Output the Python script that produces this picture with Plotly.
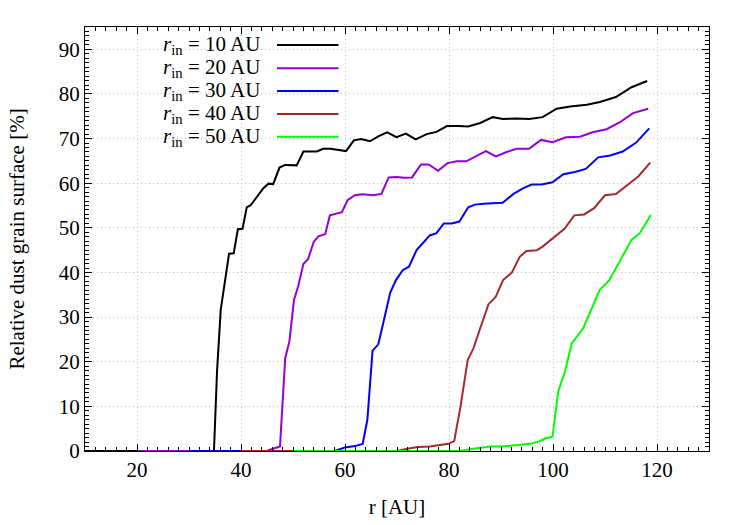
import plotly.graph_objects as go

# ---- data ----
r_10 = [10, 34.8, 35.4, 36.1, 37.7, 38.6, 39.4, 40.3, 41.1, 41.9, 44.3, 45.3, 46.2, 47.4, 48.5, 50.7,
        52.0, 54.6, 55.8, 57.2, 60.2, 61.7, 63.1, 64.8, 66.4, 68.1, 69.9, 71.7, 73.6, 75.7, 77.6, 79.6,
        81.8, 83.7, 86.0, 88.4, 90.4, 93.0, 95.4, 98.0, 100.7, 103.3, 106.5, 109.0, 112.1, 115.1, 118.1]
s_10 = [0, 0, 18, 31.6, 44.2, 44.3, 49.7, 49.8, 54.6, 55.1, 58.9, 59.9, 59.8, 63.5, 64.1, 64.0,
        67.1, 67.1, 67.7, 67.7, 67.2, 69.6, 69.9, 69.4, 70.5, 71.4, 70.3, 71.1, 69.8, 71.0, 71.5, 72.8,
        72.8, 72.7, 73.5, 74.8, 74.4, 74.5, 74.4, 74.8, 76.7, 77.2, 77.6, 78.2, 79.3, 81.5, 82.9]

r_20 = [20, 44.9, 47.5, 48.5, 49.3, 50.2, 51.0, 52.0, 52.9, 54.0, 54.9, 56.2, 57.1, 58.3, 59.4, 60.5,
        61.9, 63.3, 65.4, 67.0, 68.4, 69.9, 71.4, 72.9, 74.6, 76.1, 77.9, 79.7, 81.5, 83.3, 85.2, 87.1,
        89.0, 91.1, 93.0, 95.4, 97.7, 99.9, 102.5, 105.2, 107.6, 110.3, 112.8, 115.4, 118.3]
s_20 = [0, 0, 1.0, 20.8, 24.5, 33.9, 36.9, 41.9, 43.0, 46.9, 48.1, 48.6, 52.8, 53.1, 53.5, 56.2,
        57.3, 57.5, 57.3, 57.6, 61.3, 61.4, 61.2, 61.3, 64.2, 64.2, 62.8, 64.5, 64.9, 64.9, 66.1, 67.2,
        66.0, 67.0, 67.7, 67.7, 69.7, 69.2, 70.3, 70.4, 71.4, 72.1, 73.6, 75.7, 76.7]

r_30 = [30, 58.0, 60.0, 61.9, 63.4, 64.3, 65.3, 66.4, 67.5, 68.7, 69.8, 71.1, 72.3, 73.8, 74.9, 76.3,
        77.6, 79.0, 80.5, 82.0, 83.7, 85.0, 86.6, 88.5, 90.3, 92.4, 94.3, 95.9, 97.8, 99.9, 102.0, 104.2,
        106.3, 108.7, 111.0, 113.4, 116.0, 118.5]
s_30 = [0, 0, 0.8, 1.1, 1.6, 7.0, 22.5, 23.9, 29.4, 35.5, 38.3, 40.5, 41.3, 45.1, 46.5, 48.3,
        48.8, 51.0, 51.0, 51.4, 54.6, 55.2, 55.4, 55.5, 55.6, 57.6, 58.9, 59.7, 59.7, 60.2, 62.0, 62.5,
        63.2, 65.8, 66.2, 67.1, 69.1, 72.3]

r_40 = [40, 70.0, 72.0, 74.0, 76.3, 77.9, 79.9, 81.0, 82.2, 83.6, 84.7, 86.0, 87.6, 89.0, 90.4, 92.1,
        93.6, 94.9, 96.9, 98.0, 99.5, 100.7, 102.2, 104.1, 106.0, 107.9, 110.0, 112.1, 114.2, 116.4, 118.7]
s_40 = [0, 0, 0.5, 0.9, 1.0, 1.3, 1.6, 2.2, 9.9, 20.4, 23.0, 27.5, 32.9, 34.6, 38.3, 40.0,
        43.5, 44.8, 45.0, 45.8, 47.3, 48.4, 49.8, 52.8, 53.0, 54.4, 57.3, 57.6, 59.6, 61.5, 64.6]

r_50 = [50, 82.1, 84.0, 86.0, 87.9, 90.1, 93.0, 95.6, 97.2, 98.5, 99.9, 101.0, 102.3, 103.6, 105.8,
        109.0, 110.8, 115.1, 116.7, 118.8]
s_50 = [0, 0, 0.4, 0.7, 1.0, 1.0, 1.3, 1.6, 2.1, 2.8, 3.2, 13.3, 17.8, 24.1, 27.5,
        36.1, 38.2, 47.3, 48.8, 52.9]

labels = ["<i>r</i><sub>in</sub> = 10 AU", "<i>r</i><sub>in</sub> = 20 AU", "<i>r</i><sub>in</sub> = 30 AU",
          "<i>r</i><sub>in</sub> = 40 AU", "<i>r</i><sub>in</sub> = 50 AU"]
colors = ["#000000", "#9400D3", "#0000FF", "#A52A2A", "#00FF00"]
series = [(r_10, s_10), (r_20, s_20), (r_30, s_30), (r_40, s_40), (r_50, s_50)]

FONT = "Liberation Serif"

fig = go.Figure()
for (xs, ys), name, c in zip(series, labels, colors):
    fig.add_trace(go.Scatter(x=xs, y=ys, mode="lines", name=name,
                             line=dict(color=c, width=2), showlegend=False))

# gnuplot-style key: text on the left, line sample on the right
row_y = [0.9575, 0.9026, 0.849, 0.7948, 0.7413]
for name, c, yy in zip(labels, colors, row_y):
    fig.add_annotation(xref="paper", yref="paper", x=0.284, y=yy, text=name,
                       showarrow=False, xanchor="right", yanchor="middle",
                       font=dict(family=FONT, size=21, color="black"))
    fig.add_shape(type="line", xref="paper", yref="paper", x0=0.3077, x1=0.4062,
                  y0=yy, y1=yy, line=dict(color=c, width=2))

axis_common = dict(
    showline=True, linecolor="black", linewidth=1, mirror="allticks",
    ticks="inside", ticklen=7, tickcolor="black", tickwidth=1,
    showgrid=True, gridcolor="#bdbdbd", griddash="1px,3px", gridwidth=1,
    zeroline=False, tickfont=dict(family=FONT, size=21, color="black"),
)

fig.update_xaxes(range=[10, 130], tick0=0, dtick=20,
                 minor=dict(dtick=2, ticks="inside", ticklen=4, tickcolor="black", showgrid=False),
                 title=dict(text="r [AU]", font=dict(family=FONT, size=21, color="black"), standoff=18),
                 **axis_common)
fig.update_yaxes(range=[0, 95], tick0=0, dtick=10,
                 minor=dict(dtick=1, ticks="inside", ticklen=4, tickcolor="black", showgrid=False),
                 title=dict(text="Relative dust grain surface [%]",
                            font=dict(family=FONT, size=21, color="black"), standoff=28),
                 **axis_common)

fig.update_layout(
    width=750, height=525,
    margin=dict(l=85, r=41, t=27, b=74, autoexpand=False),
    plot_bgcolor="white", paper_bgcolor="white",
    font=dict(family=FONT, size=21, color="black"),
)

fig.write_html("out.html")
